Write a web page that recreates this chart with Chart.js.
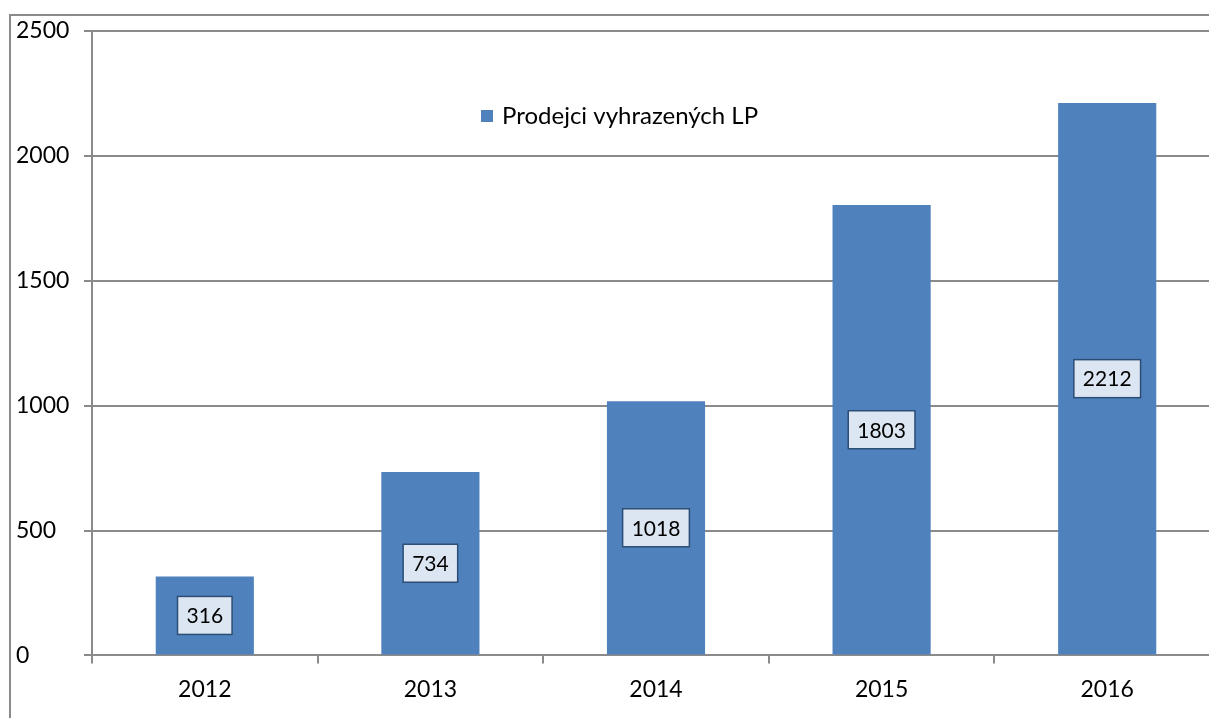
<!DOCTYPE html>
<html>
<head>
<meta charset="utf-8">
<script src="https://cdn.jsdelivr.net/npm/chart.js@4/dist/chart.umd.min.js"></script>
<style>
  html, body { margin: 0; padding: 0; overflow: hidden; background: #fff; }
  #wrap { position: relative; width: 1209px; height: 718px; overflow: hidden; }
  #myChart { position: absolute; left: 0; top: 0; }
  #frame { position: absolute; left: 9px; top: 14px; width: 1400px; height: 900px;
           border-left: 2px solid #8a8a8a; border-top: 2px solid #8a8a8a; pointer-events: none; }
</style>
</head>
<body>
<div id="wrap">
  <canvas id="myChart" width="1220" height="718"></canvas>
  <div id="frame"></div>
</div>
<script>
const years = ['2012', '2013', '2014', '2015', '2016']
const sellers = [316, 734, 1018, 1803, 2212]
const seriesName = 'Prodejci vyhrazených LP'
const yTicks = [0, 500, 1000, 1500, 2000, 2500]

const fontFamily = 'Lato, "Open Sans", sans-serif'
const barBlue = '#4f81bd'
const axisGray = '#8a8a8a'

// value boxes in the middle of each bar
const valueBoxes = {
    id: 'value_boxes',
    afterDatasetsDraw: (chart) => {
        const {ctx} = chart
        ctx.save()
        ctx.font = '21px ' + fontFamily
        ctx.textAlign = 'center'
        ctx.textBaseline = 'middle'
        const meta = chart.getDatasetMeta(0)
        meta.data.forEach((bar, i) => {
            const txt = String(chart.data.datasets[0].data[i])
            const w = ctx.measureText(txt).width + 18
            const h = 38
            const cx = bar.x
            const cy = (bar.y + bar.base) / 2
            ctx.fillStyle = '#dce6f2'
            ctx.fillRect(cx - w / 2, cy - h / 2, w, h)
            ctx.lineWidth = 1.5
            ctx.strokeStyle = '#2c4d75'
            ctx.strokeRect(cx - w / 2, cy - h / 2, w, h)
            ctx.fillStyle = '#000'
            ctx.fillText(txt, cx, cy + 1)
        })
        ctx.restore()
    }
}

// legend sits inside the plot, like the spreadsheet original
const innerLegend = {
    id: 'inner_legend',
    afterDraw: (chart) => {
        const {ctx, chartArea} = chart
        const x = chartArea.left + 389
        const y = chartArea.top + 85
        ctx.save()
        ctx.fillStyle = barBlue
        ctx.fillRect(x, y - 6, 12, 12)
        ctx.fillStyle = '#000'
        ctx.font = '24px ' + fontFamily
        ctx.textAlign = 'left'
        ctx.textBaseline = 'middle'
        ctx.fillText(chart.data.datasets[0].label, x + 21, y)
        ctx.restore()
    }
}

const ctx = document.getElementById('myChart').getContext('2d')
new Chart(ctx, {
    type: 'bar',
    data: {
        labels: years,
        datasets: [{
            label: seriesName,
            data: sellers,
            backgroundColor: barBlue,
            borderWidth: 0,
            barPercentage: 1,
            categoryPercentage: 0.435
        }]
    },
    options: {
        responsive: false,
        animation: false,
        layout: { padding: { left: 16, top: 31, right: 0, bottom: 3 } },
        plugins: {
            legend: { display: false },
            tooltip: { enabled: false }
        },
        scales: {
            x: {
                grid: { display: true, drawOnChartArea: false, drawTicks: true, tickLength: 8,
                        color: axisGray, lineWidth: 2, offset: true },
                border: { display: true, color: axisGray, width: 2 },
                ticks: { color: '#000', font: { family: fontFamily, size: 23 }, padding: 12, maxRotation: 0 }
            },
            y: {
                min: 0,
                max: 2500,
                afterBuildTicks: (scale) => { scale.ticks = yTicks.map(v => ({value: v})) },
                afterFit: (scale) => { scale.width = 76 },
                grid: { color: axisGray, lineWidth: 2, tickLength: 8, drawTicks: true },
                border: { display: true, color: axisGray, width: 2 },
                ticks: { color: '#000', font: { family: fontFamily, size: 23 }, crossAlign: 'far', padding: 10,
                         callback: (value) => String(value) }
            }
        }
    },
    plugins: [valueBoxes, innerLegend]
})
</script>
</body>
</html>
